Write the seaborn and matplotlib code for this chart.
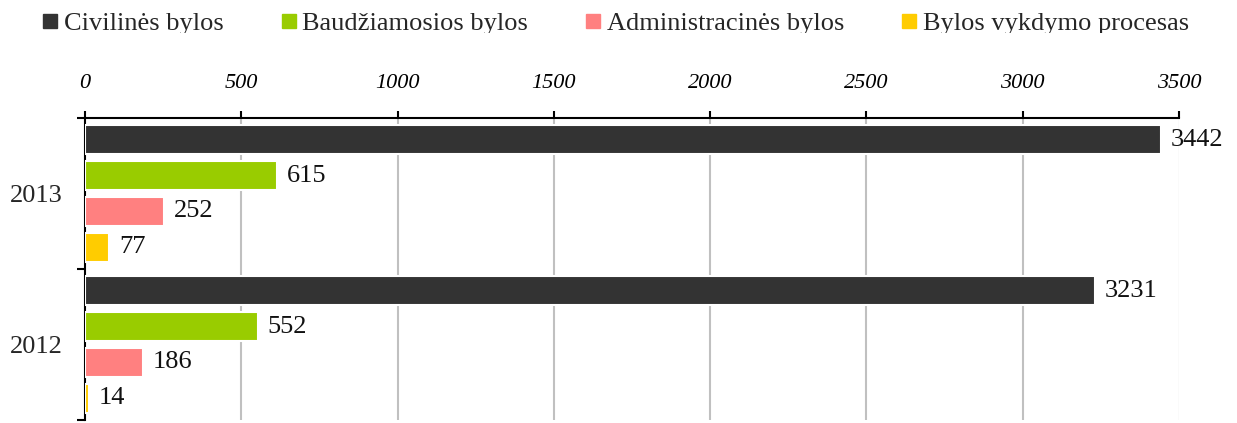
import pandas as pd
import matplotlib.pyplot as plt
import matplotlib.patches as mpatches
import seaborn as sns

# data
years = ['2013', '2012']
case_types = ['Civilinės bylos', 'Baudžiamosios bylos',
              'Administracinės bylos', 'Bylos vykdymo procesas']
counts_2013 = [3442, 615, 252, 77]
counts_2012 = [3231, 552, 186, 14]
colors = ['#333333', '#99CC00', '#FF8080', '#FFCC00']
x_ticks = [0, 500, 1000, 1500, 2000, 2500, 3000, 3500]

rows = []
for year, vals in zip(years, [counts_2013, counts_2012]):
    for t, v in zip(case_types, vals):
        rows.append({'year': year, 'type': t, 'count': v})
df = pd.DataFrame(rows)

sns.set_theme(style='white')
plt.rcParams['font.family'] = ['Liberation Serif', 'DejaVu Serif']

fig = plt.figure(figsize=(12.37, 4.23), dpi=100)
ax = fig.add_axes([85 / 1237, 3 / 423, 1094 / 1237, 302 / 423])

sns.barplot(data=df, y='year', x='count', hue='type', order=years,
            hue_order=case_types, palette=colors, orient='h', saturation=1,
            width=0.95, gap=0.2, edgecolor='white', linewidth=1.5,
            ax=ax, zorder=3)

for cont in ax.containers:
    ax.bar_label(cont, fmt='%d', padding=7, fontsize=19, color='#111111')

ax.set_xlim(0, 3500)
ax.set_ylim(1.5, -0.5)
ax.xaxis.tick_top()
ax.set_xticks(x_ticks)
ax.set_xticklabels([str(t) for t in x_ticks], fontstyle='italic', fontsize=16)
ax.tick_params(axis='x', direction='out', length=5, width=1.5, pad=13,
               colors='black', top=True, bottom=False)

ax.set_yticks([0, 1])
ax.set_yticklabels(years, fontsize=19)
ax.set_yticks([-0.5, 0.5, 1.5], minor=True)
ax.tick_params(axis='y', which='major', length=0, pad=16)
ax.tick_params(axis='y', which='minor', left=True, direction='out',
               length=6, width=1.5, color='black')
ax.set_xlabel('')
ax.set_ylabel('')

ax.grid(axis='x', color='#c0c0c0', linewidth=1.5)
ax.set_axisbelow(True)
gl = ax.get_xgridlines()
gl[0].set_visible(False)
gl[-1].set_color('#e6e6e6')
gl[-1].set_linewidth(1)

for side in ['right', 'bottom']:
    ax.spines[side].set_visible(False)
for side in ['top', 'left']:
    ax.spines[side].set_color('black')
    ax.spines[side].set_linewidth(1.5)

ax.get_legend().remove()
handles = [mpatches.Patch(color=c) for c in colors]
fig.legend(handles, case_types, loc='center', bbox_to_anchor=(0.498, 0.943),
           ncol=4, frameon=False, fontsize=19, handlelength=0.53,
           handleheight=0.42, handletextpad=0.25, columnspacing=2.2)

# the reference image cuts the legend line at its baseline
fig.patches.append(mpatches.Rectangle((0, 1 - 60 / 423), 1, 26.5 / 423,
                                      transform=fig.transFigure,
                                      facecolor='white', edgecolor='none',
                                      zorder=20))

fig.savefig('out.png', dpi=100)
